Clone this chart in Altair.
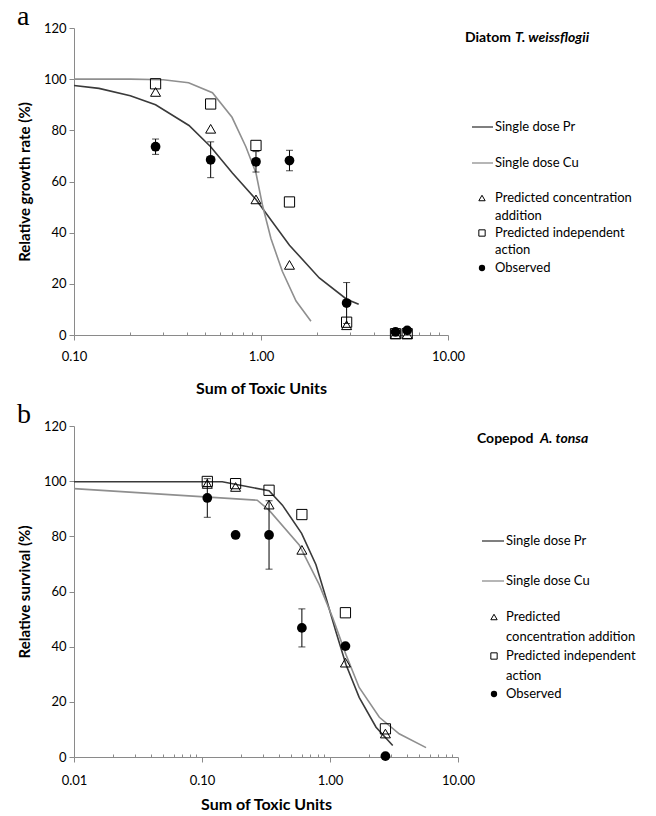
import altair as alt
import pandas as pd

FONT = "Lato"
SERIF = "Liberation Serif"
PR_COLOR = "#3a3a3a"
CU_COLOR = "#8f8f8f"
AXIS_COLOR = "#8a8a8a"

# ---------------- Panel a : Diatom T. weissflogii ----------------
a_x = [0.273, 0.538, 0.94, 1.42, 2.87, 5.24, 6.05]
a_ca = [95.0, 80.6, 53.0, 27.4, 3.8, 0.3, 0.3]
a_ia = [98.2, 90.3, 74.1, 52.0, 5.0, 0.5, 0.5]
a_obs = [73.6, 68.5, 67.7, 68.2, 12.5, 1.2, 1.8]
a_err = [3.0, 7.0, 4.0, 4.0, 8.0, 0.0, 0.0]

a_pr_x = [0.1, 0.136, 0.2, 0.273, 0.412, 0.538, 0.703, 0.94, 1.42, 2.05, 2.87, 3.33]
a_pr_y = [97.5, 96.4, 93.5, 90.0, 81.9, 73.6, 63.3, 53.0, 35.1, 22.3, 14.0, 12.0]
a_cu_x = [0.1, 0.2, 0.3, 0.41, 0.55, 0.70, 0.83, 0.94, 1.02, 1.13, 1.30, 1.54, 1.85]
a_cu_y = [100.0, 100.0, 99.8, 98.6, 94.7, 85.1, 73.6, 63.3, 50.5, 37.7, 24.9, 13.3, 5.4]

# ---------------- Panel b : Copepod A. tonsa ----------------
b_x = [0.11, 0.183, 0.334, 0.603, 1.32, 2.71]
b_ca = [99.0, 97.9, 91.5, 75.1, 34.2, 8.5]
b_ia = [99.9, 99.1, 96.7, 87.9, 52.3, 10.2]
b_obs = [93.9, 80.5, 80.5, 46.8, 40.2, 0.3]
b_err = [7.0, 0.0, 12.4, 6.9, 0.0, 0.0]

b_pr_x = [0.01, 0.144, 0.334, 0.425, 0.6, 0.777, 0.93, 1.11, 1.33, 1.69, 2.29, 3.09]
b_pr_y = [99.8, 99.8, 96.5, 91.3, 81.1, 69.7, 57.7, 45.6, 33.6, 21.6, 10.8, 4.2]
b_cu_x = [0.01, 0.27, 0.334, 0.575, 0.824, 1.05, 1.33, 1.69, 2.43, 3.47, 5.63]
b_cu_y = [97.3, 93.1, 89.5, 76.9, 62.5, 50.5, 37.2, 25.2, 14.4, 8.4, 3.4]

y_ticks = [0, 20, 40, 60, 80, 100, 120]
a_major = [0.1, 1.0, 10.0]
b_major = [0.01, 0.1, 1.0, 10.0]
a_minor = [m * d for d in [0.1, 1.0] for m in range(2, 10)]
b_minor = [m * d for d in [0.01, 0.1, 1.0] for m in range(2, 10)]

line_labels = ["Single dose Pr", "Single dose Cu"]
a_sym_labels = ["Predicted concentration", "addition", "Predicted independent", "action", "Observed"]
b_sym_labels = ["Predicted", "concentration addition", "Predicted independent", "action", "Observed"]

DUMMY = alt.Data(values=[{}])


def txt(s, x, y, size=13, weight="normal", style="normal", font=FONT, align="left", baseline="middle"):
    return alt.Chart(DUMMY).mark_text(
        text=s, fontSize=size, fontWeight=weight, fontStyle=style, font=font,
        align=align, baseline=baseline, color="black"
    ).encode(x=alt.value(x), y=alt.value(y))


def leg_line(x1, x2, y, color):
    return alt.Chart(DUMMY).mark_rule(color=color, strokeWidth=1.3).encode(
        x=alt.value(x1), x2=alt.value(x2), y=alt.value(y))


def leg_sym(x, y, shape, filled):
    return alt.Chart(DUMMY).mark_point(
        shape=shape, filled=filled, color="black", size=40, strokeWidth=1, opacity=1
    ).encode(x=alt.value(x), y=alt.value(y))


def panel(px, ca, ia, obs, err, prx, pry, cux, cuy, dom, major, minor, ytitle,
          w, h, letter, tparts, leg, sym_labels, xlabpad, xtitlepad):
    xs = alt.Scale(type="log", domain=dom, nice=False)
    ys = alt.Scale(domain=[0, 120], nice=False)
    lab_expr = "format(datum.value, '.2f')"
    x_major = alt.Axis(values=major, labelExpr=lab_expr, tickSize=5, labelFontSize=13,
                       labelFont=FONT, labelColor="black", labelFlush=False, labelOverlap=False,
                       domainColor=AXIS_COLOR, tickColor=AXIS_COLOR, grid=False,
                       title="Sum of Toxic Units", titleFont=FONT, titleFontSize=16,
                       titleFontWeight="bold", titleColor="black", labelPadding=xlabpad,
                       titlePadding=xtitlepad)
    x_minor = alt.Axis(values=minor, orient="bottom", offset=-3, tickSize=3, labels=False,
                       domain=False, tickColor=AXIS_COLOR, grid=False, title=None)
    y_axis = alt.Axis(values=y_ticks, tickSize=5, labelFontSize=13, labelFont=FONT,
                      labelColor="black", labelFlush=False, domainColor=AXIS_COLOR,
                      tickColor=AXIS_COLOR, grid=False, title=ytitle, titleFont=FONT,
                      titleFontSize=15, titleFontWeight="bold", titleColor="black",
                      titlePadding=11, labelPadding=3)

    pr_df = pd.DataFrame({"x": prx, "y": pry})
    cu_df = pd.DataFrame({"x": cux, "y": cuy})
    pts = pd.DataFrame({"x": px, "ca": ca, "ia": ia, "obs": obs, "err": err})

    def Y(field):
        return alt.Y(field, scale=ys, axis=y_axis)

    def Xn():
        return alt.X("x:Q", scale=xs, axis=None)

    pr = alt.Chart(pr_df).mark_line(color=PR_COLOR, strokeWidth=1.6).encode(
        x=alt.X("x:Q", scale=xs, axis=x_major), y=Y("y:Q"))
    cu = alt.Chart(cu_df).mark_line(color=CU_COLOR, strokeWidth=1.6).encode(
        x=alt.X("x:Q", scale=xs, axis=x_minor), y=Y("y:Q"))
    base = alt.Chart(pts)
    eb = base.transform_filter("datum.err > 0").transform_calculate(
        lo="datum.obs - datum.err", hi="datum.obs + datum.err")
    bars = eb.mark_rule(color="black", strokeWidth=1).encode(x=Xn(), y=Y("lo:Q"), y2="hi:Q")
    caps_lo = eb.mark_tick(color="black", orient="horizontal", size=7, thickness=1).encode(
        x=Xn(), y=Y("lo:Q"))
    caps_hi = eb.mark_tick(color="black", orient="horizontal", size=7, thickness=1).encode(
        x=Xn(), y=Y("hi:Q"))
    tri = base.mark_point(shape="triangle-up", filled=False, color="black", size=100,
                          strokeWidth=1, opacity=1).encode(x=Xn(), y=Y("ca:Q"))
    sq = base.mark_point(shape="square", filled=False, color="black", size=105,
                         strokeWidth=1, opacity=1).encode(x=Xn(), y=Y("ia:Q"))
    circ = base.mark_point(shape="circle", filled=True, color="black", size=95,
                           opacity=1).encode(x=Xn(), y=Y("obs:Q"))

    layers = [pr, cu, bars, caps_lo, caps_hi, tri, sq, circ]
    layers.append(txt(letter, -57, -3, size=28, font=SERIF, baseline="alphabetic"))
    (t1, t1x), (t2, t2x), ty = tparts
    layers.append(txt(t1, t1x, ty, size=14, weight="bold"))
    layers.append(txt(t2, t2x, ty, size=14, weight="bold", style="italic"))

    lx1, lx2, tx, sx, yy = leg
    layers.append(leg_line(lx1, lx2, yy[0], PR_COLOR))
    layers.append(txt(line_labels[0], tx, yy[0]))
    layers.append(leg_line(lx1, lx2, yy[1], CU_COLOR))
    layers.append(txt(line_labels[1], tx, yy[1]))
    layers.append(leg_sym(sx, yy[2], "triangle-up", False))
    layers.append(leg_sym(sx, yy[4], "square", False))
    layers.append(leg_sym(sx, yy[6], "circle", True))
    for s, ypos in zip(sym_labels, yy[2:]):
        layers.append(txt(s, tx, ypos))

    return alt.layer(*layers).resolve_axis(x="independent").properties(width=w, height=h)


chart_a = panel(a_x, a_ca, a_ia, a_obs, a_err, a_pr_x, a_pr_y, a_cu_x, a_cu_y,
                [0.1, 10], a_major, a_minor, "Relative growth rate  (%)", 374, 307, "a",
                (("Diatom", 391), ("T. weissflogii", 441), 10),
                (398, 419, 421, 408, [99, 135, 170, 188, 205, 222, 240]), a_sym_labels, 10, 17)

chart_b = panel(b_x, b_ca, b_ia, b_obs, b_err, b_pr_x, b_pr_y, b_cu_x, b_cu_y,
                [0.01, 10], b_major, b_minor, "Relative survival (%)", 384, 331, "b",
                (("Copepod", 403), ("A. tonsa", 466), 13),
                (408, 430, 432, 420, [115, 155, 191, 211, 230, 250, 268]), b_sym_labels, 12, 9)

chart = alt.vconcat(chart_a, chart_b, spacing=5).configure_view(stroke=None).properties(
    padding={"top": -5, "left": 9, "right": 0, "bottom": 0})

chart.save("out.html", embed_options={"renderer": "svg", "actions": False})
